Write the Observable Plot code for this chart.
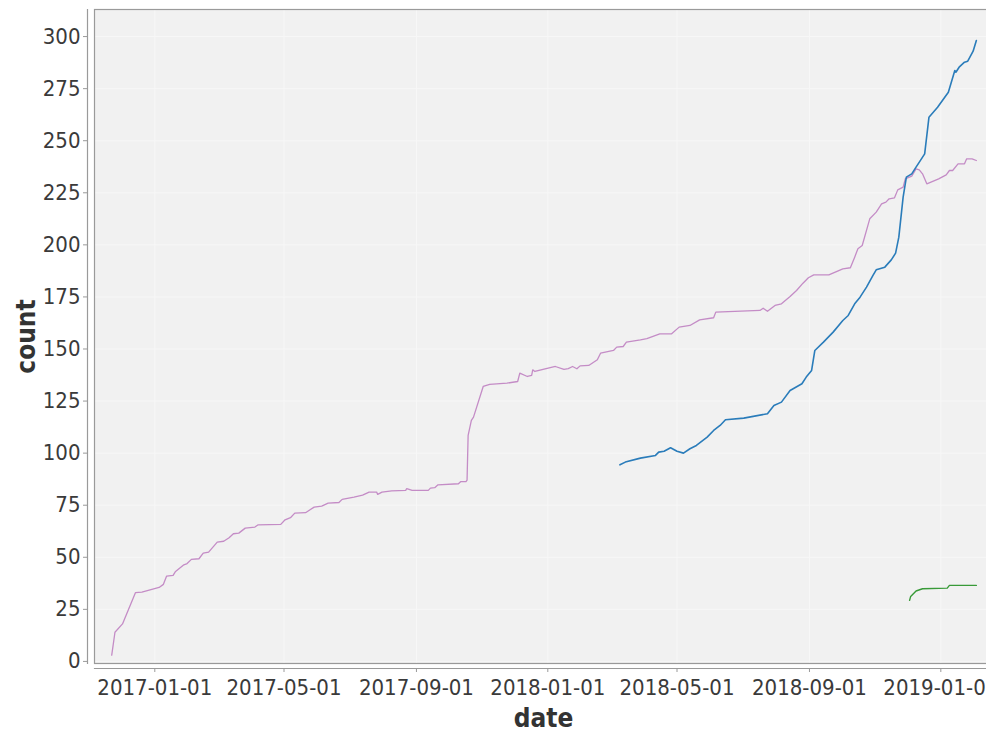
<!DOCTYPE html>
<html>
<head>
<meta charset="utf-8">
<script src="https://cdn.jsdelivr.net/npm/d3@7"></script>
<script src="https://cdn.jsdelivr.net/npm/@observablehq/plot@0.6"></script>
<style>
  html, body { margin: 0; padding: 0; background: #fff; overflow: hidden; }
  #chart { width: 986px; height: 738px; overflow: hidden; }
  #chart svg { max-width: none !important; }
</style>
</head>
<body>
<div id="chart"></div>
<script>
// ---- data ----
const seriesNames = ["series A", "series B", "series C"];
const seriesColors = ["#c48cc6", "#2a7cba", "#389a38"];

const purpleDates = ["2016-11-22","2016-11-25","2016-12-02","2016-12-14","2016-12-20","2017-01-05","2017-01-09","2017-01-12","2017-01-18","2017-01-20","2017-01-28","2017-01-31","2017-02-04","2017-02-11","2017-02-15","2017-02-20","2017-02-28","2017-03-06","2017-03-11","2017-03-15","2017-03-20","2017-03-26","2017-04-04","2017-04-07","2017-04-28","2017-05-02","2017-05-07","2017-05-11","2017-05-21","2017-05-29","2017-06-05","2017-06-11","2017-06-21","2017-06-24","2017-07-05","2017-07-13","2017-07-19","2017-07-26","2017-07-27","2017-07-31","2017-08-09","2017-08-22","2017-08-23","2017-08-28","2017-09-12","2017-09-14","2017-09-18","2017-09-21","2017-10-10","2017-10-12","2017-10-17","2017-10-18","2017-10-19","2017-10-22","2017-10-24","2017-11-02","2017-11-08","2017-11-24","2017-12-04","2017-12-06","2017-12-13","2017-12-17","2017-12-18","2017-12-20","2018-01-08","2018-01-16","2018-01-20","2018-01-24","2018-01-28","2018-01-31","2018-02-08","2018-02-16","2018-02-19","2018-03-03","2018-03-06","2018-03-12","2018-03-15","2018-03-28","2018-04-03","2018-04-15","2018-04-26","2018-05-03","2018-05-13","2018-05-22","2018-06-04","2018-06-06","2018-07-17","2018-07-20","2018-07-24","2018-07-31","2018-08-06","2018-08-14","2018-08-20","2018-08-26","2018-08-31","2018-09-05","2018-09-19","2018-10-02","2018-10-09","2018-10-13","2018-10-16","2018-10-20","2018-10-27","2018-11-02","2018-11-07","2018-11-11","2018-11-14","2018-11-19","2018-11-22","2018-11-27","2018-11-29","2018-12-05","2018-12-09","2018-12-12","2018-12-15","2018-12-19","2018-12-30","2019-01-06","2019-01-09","2019-01-12","2019-01-17","2019-01-23","2019-01-25","2019-01-30","2019-02-03"];
const purpleCounts = [3,14,18,33,33.3,35.5,37,41,41.3,43,46.4,47,49,49.3,52,52.5,57.3,57.7,59.4,61.3,61.6,64,64.5,65.6,65.8,68,69,71.2,71.4,74.1,74.6,76,76.3,77.8,78.9,79.8,81.3,81.3,80.2,81.3,81.9,82.1,83,82.1,82.1,83.2,83.4,84.8,85.3,86.3,86.3,87,108.5,115.7,117.3,132,133,133.6,134.4,138.4,136.8,137.3,140,139.2,141.6,140.2,140.6,141.6,140.5,141.9,142.1,144.8,148,149.3,150.9,151.2,153.3,154.4,155,157.3,157.3,160.5,161.3,164,165,167.7,168.5,169.6,168.1,170.9,171.7,175.2,178.1,181.6,184.2,185.6,185.6,188.5,189,194.1,198.1,199.7,212.5,215.7,219.7,220.5,222.1,222.6,226.4,227.7,231.7,233,236.5,236,234.1,229.3,231.7,233.6,235.7,235.7,238.9,238.9,241.3,241.3,240.5];

const blueDates = ["2018-03-09","2018-03-14","2018-03-28","2018-04-11","2018-04-14","2018-04-19","2018-04-25","2018-05-01","2018-05-07","2018-05-13","2018-05-19","2018-05-29","2018-06-04","2018-06-10","2018-06-15","2018-07-02","2018-07-24","2018-07-30","2018-08-06","2018-08-14","2018-08-25","2018-08-29","2018-09-03","2018-09-06","2018-09-14","2018-09-23","2018-10-02","2018-10-07","2018-10-13","2018-10-18","2018-10-24","2018-10-30","2018-11-02","2018-11-10","2018-11-16","2018-11-20","2018-11-23","2018-11-27","2018-11-30","2018-12-05","2018-12-09","2018-12-14","2018-12-17","2018-12-21","2018-12-29","2019-01-08","2019-01-14","2019-01-15","2019-01-18","2019-01-23","2019-01-26","2019-01-31","2019-02-03"];
const blueCounts = [94.4,95.7,97.6,98.9,100.5,100.9,102.6,100.9,100,102.1,103.7,107.7,110.9,113.3,116,116.8,118.9,122.9,124.5,130.1,133.3,136.5,139.7,149.3,153.3,158.1,163.7,166.1,171.7,174.9,179.7,185.3,188,189.3,192.8,196,203.7,222.9,232.5,234.1,237.3,241.3,243.7,261.3,266.1,273.3,283.7,282.9,285.3,287.7,288.2,293,298.1];

const greenDates = ["2018-12-03","2018-12-04","2018-12-09","2018-12-15","2019-01-07","2019-01-09","2019-02-03"];
const greenCounts = [29.3,31.2,33.8,34.9,35.2,36.5,36.5];

const xTicks = ["2017-01-01","2017-05-01","2017-09-01","2018-01-01","2018-05-01","2018-09-01","2019-01-01"];
const yTicks = [0,25,50,75,100,125,150,175,200,225,250,275,300];
const xDomain = ["2016-11-06","2019-02-18"];
const yDomain = [-1, 313];

// ---- build rows ----
const parse = d3.utcParse("%Y-%m-%d");
const rows = [];
[[purpleDates, purpleCounts], [blueDates, blueCounts], [greenDates, greenCounts]].forEach(([ds, vs], i) => {
  ds.forEach((d, j) => rows.push({date: parse(d), count: vs[j], series: seriesNames[i]}));
});

const font = "'DejaVu Sans Condensed', 'DejaVu Sans', sans-serif";

const chart = Plot.plot({
  width: 1000,
  height: 738,
  marginTop: 9,
  marginBottom: 75,
  marginLeft: 94,
  marginRight: 8,
  style: {fontFamily: font, background: "#fff", color: "#3a3a3a", overflow: "visible", maxWidth: "none"},
  x: {type: "utc", domain: xDomain.map(parse)},
  y: {domain: yDomain},
  color: {domain: seriesNames, range: seriesColors},
  marks: [
    Plot.frame({fill: "#f1f1f1", stroke: "none"}),
    Plot.gridX(xTicks.map(parse), {stroke: "#f7f7f7", strokeOpacity: 1}),
    Plot.gridY(yTicks, {stroke: "#f7f7f7", strokeOpacity: 1}),
    Plot.frame({stroke: "#9a9a9a", strokeWidth: 1.2}),
    Plot.frame({anchor: "left", dx: -7, stroke: "#9a9a9a", strokeWidth: 1.2}),
    Plot.frame({anchor: "bottom", dy: 5, stroke: "#9a9a9a", strokeWidth: 1.2}),
    Plot.axisY(yTicks, {dx: -7, tickSize: 4, tickPadding: 3, fontSize: 22, label: null, stroke: "#9a9a9a", fill: "#3a3a3a"}),
    Plot.axisX(xTicks.map(parse), {dy: 5, tickSize: 4, tickPadding: 7, fontSize: 22, label: null, tickFormat: d3.utcFormat("%Y-%m-%d"), stroke: "#9a9a9a", fill: "#3a3a3a"}),
    Plot.text(["count"], {frameAnchor: "left", dx: -68, rotate: -90, fontSize: 26, fontWeight: "bold", fill: "#333", textAnchor: "middle", lineAnchor: "middle"}),
    Plot.text(["date"], {frameAnchor: "bottom", dy: 55, fontSize: 26, fontWeight: "bold", fill: "#333", textAnchor: "middle", lineAnchor: "middle"}),
    Plot.line(rows.filter(r => r.series === seriesNames[0]), {x: "date", y: "count", stroke: "series", strokeWidth: 1.3}),
    Plot.line(rows.filter(r => r.series === seriesNames[1]), {x: "date", y: "count", stroke: "series", strokeWidth: 1.6}),
    Plot.line(rows.filter(r => r.series === seriesNames[2]), {x: "date", y: "count", stroke: "series", strokeWidth: 1.4})
  ]
});
document.getElementById("chart").appendChild(chart);
</script>
</body>
</html>
